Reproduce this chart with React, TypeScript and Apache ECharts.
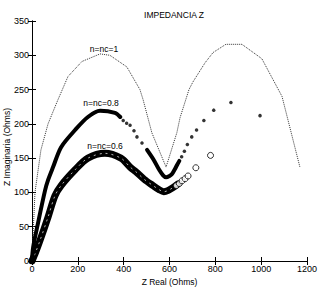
import React, { useEffect, useRef } from "react";
import * as echarts from "echarts";

const titleText = "IMPEDANCIA Z";
const xName = "Z Real (Ohms)";
const yName = "Z Imaginaria (Ohms)";
const xRange = [0, 1200];
const yRange = [0, 350];
const xStep = 200;
const yStep = 50;

// n = nc = 1 (dotted curve)
const curveN1: [number, number][] = [
  [0, 0], [5, 40], [13, 100], [39, 162], [70, 200], [113, 235], [157, 269],
  [218, 291], [297, 302], [340, 300], [414, 283], [471, 250], [485, 235],
  [523, 187], [585, 137], [632, 187], [646, 209], [685, 250], [702, 261],
  [755, 289], [790, 304], [846, 316], [916, 316], [1003, 295], [1091, 240],
  [1169, 137],
];

// n = nc = 0.8 (filled dots) — dense parts and sparse parts
const n08DenseA: [number, number][] = [
  [0, 0], [5, 20], [26, 55], [57, 103], [70, 118], [92, 137], [127, 166],
  [188, 191], [244, 210], [297, 219], [362, 216], [385, 210],
];
const n08DenseB: [number, number][] = [
  [502, 162], [530, 148], [555, 133], [572, 125], [585, 122], [600, 124],
  [611, 127], [622, 133], [633, 140], [643, 146],
];
const n08Sparse: [number, number][] = [
  [398, 205], [413, 201], [428, 198], [445, 190], [458, 181], [480, 172],
  [653, 152], [665, 160], [678, 170], [697, 181], [718, 191], [750, 205],
  [793, 220], [868, 231], [995, 212],
];

// n = nc = 0.6 (open circles) — dense band and sparse circles
const n06Dense: [number, number][] = [
  [0, 0], [15, 12], [35, 30], [70, 64], [100, 95], [127, 110], [188, 133],
  [244, 150], [318, 157], [388, 150], [428, 137], [454, 130], [490, 119],
  [528, 110], [555, 104], [575, 101], [595, 103], [615, 107], [635, 112],
];
const n06Sparse: [number, number][] = [
  [630, 110], [643, 113], [655, 117], [668, 120], [681, 124], [715, 136],
  [779, 154],
];

const labels: { text: string; x: number; y: number }[] = [
  { text: "n=nc=1", x: 104, y: 49 },
  { text: "n=nc=0.8", x: 101, y: 103 },
  { text: "n=nc=0.6", x: 105, y: 146 },
];

export default function App() {
  const ref = useRef<HTMLDivElement>(null);
  useEffect(() => {
    if (!ref.current) return;
    const chart = echarts.init(ref.current, null, { renderer: "svg" });
    const font = "Liberation Sans";
    const axisCommon = {
      axisLine: { show: true, lineStyle: { color: "#000", width: 1 } },
      axisTick: { show: true, inside: true, length: 4, lineStyle: { color: "#000" } },
      splitLine: { show: false },
    };
    chart.setOption({
      animation: false,
      backgroundColor: "#fff",
      textStyle: { fontFamily: font },
      title: {
        text: titleText,
        left: 169,
        top: 5,
        textAlign: "center",
        textStyle: { fontSize: 8.5, fontWeight: "normal", color: "#000", fontFamily: font },
      },
      grid: { left: 32, right: 21, top: 21, bottom: 27, containLabel: false, outerBoundsMode: "none" },
      xAxis: [
        {
          ...axisCommon,
          type: "value",
          min: xRange[0],
          max: xRange[1],
          interval: xStep,
          position: "bottom",
          name: xName,
          nameLocation: "middle",
          nameGap: 14,
          nameTextStyle: { fontSize: 8.5, color: "#000", fontFamily: font },
          axisLabel: {
            fontSize: 9,
            color: "#000",
            margin: 3,
            fontFamily: font,
            formatter: (v: number) => String(v),
          },
        },
        {
          ...axisCommon,
          type: "value",
          min: xRange[0],
          max: xRange[1],
          interval: xStep,
          position: "top",
          axisLabel: { show: false },
        },
      ],
      yAxis: [
        {
          ...axisCommon,
          type: "value",
          min: yRange[0],
          max: yRange[1],
          interval: yStep,
          position: "left",
          axisLabel: {
            fontSize: 9,
            color: "#000",
            margin: 3,
            fontFamily: font,
            formatter: (v: number) => String(v),
          },
        },
        {
          ...axisCommon,
          type: "value",
          min: yRange[0],
          max: yRange[1],
          interval: yStep,
          position: "right",
          axisLabel: { show: false },
        },
      ],
      series: [
        {
          type: "line",
          data: curveN1,
          showSymbol: false,
          lineStyle: { color: "#333", width: 1, type: [1, 1] },
          z: 2,
        },
        {
          type: "line",
          data: n06Dense,
          showSymbol: false,
          smooth: 0.3,
          lineStyle: { color: "#000", width: 7, cap: "round", join: "round" },
          z: 3,
        },
        {
          type: "line",
          data: n06Dense,
          showSymbol: false,
          smooth: 0.3,
          lineStyle: { color: "#fff", width: 1, type: [2, 4], opacity: 0.7 },
          z: 4,
        },
        {
          type: "scatter",
          data: n06Sparse,
          symbol: "circle",
          symbolSize: 6,
          itemStyle: { color: "#fff", borderColor: "#000", borderWidth: 1 },
          z: 4,
        },
        {
          type: "line",
          data: n08DenseA,
          showSymbol: false,
          smooth: 0.3,
          lineStyle: { color: "#000", width: 4, cap: "round", join: "round" },
          z: 5,
        },
        {
          type: "line",
          data: n08DenseB,
          showSymbol: false,
          smooth: 0.3,
          lineStyle: { color: "#000", width: 4, cap: "round", join: "round" },
          z: 5,
        },
        {
          type: "scatter",
          data: n08Sparse,
          symbol: "circle",
          symbolSize: 3.5,
          itemStyle: { color: "#000" },
          z: 5,
        },
      ],
      graphic: [
        ...labels.map((l) => ({
          type: "text",
          x: l.x,
          y: l.y,
          style: {
            text: l.text,
            fontSize: 8.5,
            fontFamily: font,
            fill: "#000",
            align: "center",
            verticalAlign: "middle",
          },
          z: 10,
        })),
        {
          type: "text",
          x: 7,
          y: 147,
          rotation: Math.PI / 2,
          style: {
            text: yName,
            fontSize: 8.5,
            fontFamily: font,
            fill: "#000",
            align: "center",
            verticalAlign: "middle",
          },
          z: 10,
        },
      ],
    });
    return () => chart.dispose();
  }, []);
  return <div ref={ref} style={{ width: 328, height: 288, position: "absolute", left: 0, top: 0 }} />;
}
